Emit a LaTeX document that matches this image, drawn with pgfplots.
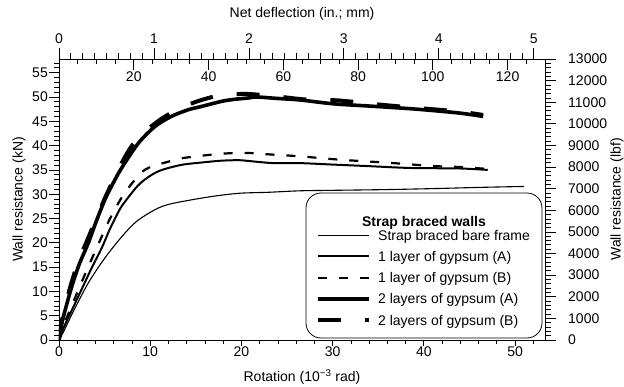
\documentclass[border=0pt]{standalone}
\usepackage{fontspec}
\setmainfont{Liberation Sans}
\usepackage{pgfplots}
\pgfplotsset{compat=1.18}
\begin{document}
\begin{tikzpicture}[font=\fontsize{14}{16}\selectfont]
\pgfplotsset{
  base/.style={
    scale only axis, width=486pt, height=281pt,
    at={(59pt,47pt)}, anchor=south west,
    tick align=outside,
    axis line style={-, line width=0.8pt},
    every tick/.style={black, line width=0.8pt},
    /pgf/number format/assume math mode=true,
    /pgf/number format/1000 sep={},
    scaled ticks=false,
    tick label style={font=\fontsize{14}{16}\selectfont},
    label style={font=\fontsize{14}{16}\selectfont},
  }
}
% ---------- main data axis with left scale ----------
\begin{axis}[base,
  xmin=0, xmax=53.2787, ymin=0, ymax=57.827,
  hide x axis, axis y line*=left,
  ytick={0,5,...,55}, minor ytick={0,1,...,57},
  major tick length=10pt, minor tick length=5pt,
  yticklabel style={inner xsep=1pt},
  ylabel={Wall resistance (kN)},
  ylabel style={at={(axis description cs:-0.0823,0.5)}, anchor=center, inner sep=0pt},
  legend style={at={(0.5288,0.3915)}, anchor=north west, draw=none, fill=none,
    inner sep=0pt, row sep=7.75pt, font=\fontsize{14}{16}\selectfont,
    nodes={inner sep=0pt, text height=10pt, text depth=3.5pt, anchor=base west}},
  legend cell align=left,
  legend image code/.code={\draw[#1] (0pt,5pt) -- (51pt,5pt); \path (0pt,0pt) (58pt,0pt);},
]
\addplot[black, line width=1.1pt, smooth] coordinates {
(0,0) (0.5,1.7) (1.5,5.6) (3.2,11.7) (5,16.8) (6.9,21.3) (8.5,24.4) (10.5,26.8) (12,27.9) (14.4,28.8) (17,29.6) (19.8,30.2) (23,30.4) (26.4,30.7) (30,30.8) (34,30.9) (37.3,31.0) (42,31.2) (46,31.4) (51,31.6)};
\addlegendentry{Strap braced bare frame}
\addplot[black, line width=2pt, smooth] coordinates {
(0,0) (0.5,2.5) (1.5,6.5) (2.5,10.5) (3.5,14.5) (4.7,19) (5.5,22.5) (6.3,25.6) (6.9,27.6) (8.2,30.8) (9,32.4) (10,33.8) (11,34.8) (12,35.4) (13.6,36.1) (15.5,36.5) (17.8,36.9) (19.8,37.0) (21,36.8) (23.5,36.4) (26.4,36.4) (30,36.1) (33.7,35.8) (38.5,35.4) (43.9,35.3) (47,35.0)};
\addlegendentry{1 layer of gypsum (A)}
\addplot[black, line width=2.2pt, dash pattern=on 9pt off 12pt, smooth] coordinates {
(0,0) (0.5,3) (1.5,7.5) (2.5,12) (3.5,16.3) (4.5,20.5) (5.6,25) (7.1,30) (8.9,34.2) (10,35.6) (11.8,36.6) (13.5,37.4) (15.5,37.9) (18.4,38.4) (20.6,38.5) (23,38.2) (26.4,37.8) (30.8,37.1) (35.9,36.5) (41,35.8) (43.9,35.6) (47,35.2)};
\addlegendentry{1 layer of gypsum (B)}
\addplot[black, line width=3.6pt, smooth] coordinates {
(0,0) (0.3,3.4) (0.8,7) (1.4,11) (2.2,15.5) (3.2,19.9) (4.1,24.5) (5.06,29) (6,32.5) (6.9,35.5) (8.7,40.5) (10.5,43.9) (12.3,46) (14.2,47.4) (15.5,48) (17.8,49.1) (19.1,49.5) (20.75,49.8) (21.7,50.0) (24,49.7) (26.4,49.4) (30.1,48.6) (34.4,48.1) (39.2,47.5) (43.9,46.7) (46.5,46.0)};
\addlegendentry{2 layers of gypsum (A)}
\addplot[black, line width=4pt, dash pattern=on 23pt off 24pt, smooth] coordinates {
(0,0) (0.3,3.8) (0.8,7.8) (1.4,12) (2.2,16.5) (3.2,21) (4.1,25) (5.06,29.3) (6.7,35.8) (8,40) (9.44,42.9) (11.3,45.6) (13.3,47.7) (15.3,49.2) (17.5,50.3) (19.5,50.6) (21,50.6) (24,50.1) (27,49.5) (30.6,49.3) (35.4,48.4) (39,47.8) (43.9,47) (46.5,46.3)};
\addlegendentry{2 layers of gypsum (B)}
\draw[black, line width=0.8pt, rounded corners=15pt] (rel axis cs:0.5082,0.0071) rectangle (rel axis cs:0.9938,0.5231);
\node[font=\fontsize{14}{16}\selectfont\bfseries, anchor=center] at (rel axis cs:0.7510,0.4164) {Strap braced walls};
\end{axis}
% ---------- bottom axis ----------
\begin{axis}[base,
  xmin=0, xmax=53.2787, ymin=0, ymax=1,
  hide y axis, axis x line*=bottom,
  xtick={0,10,...,50}, minor xtick={0,2,...,52},
  major tick length=6.5pt, minor tick length=4.5pt,
  xticklabel style={inner ysep=0pt},
  xlabel={Rotation (10\textsuperscript{−3} rad)},
  xlabel style={at={(axis description cs:0.5,-0.1317)}, anchor=center, inner sep=0pt},
]
\end{axis}
% ---------- top inches + right lbf ----------
\begin{axis}[base,
  xmin=0, xmax=5.11811, ymin=0, ymax=13000,
  axis x line*=top, axis y line*=right,
  xtick={0,1,...,5}, minor xtick={0,0.125,...,5.1},
  ytick={0,1000,...,13000}, minor ytick={0,200,...,13000},
  major tick length=11pt, minor tick length=5.5pt,
  xticklabel style={inner ysep=0pt, yshift=4pt},
  yticklabel style={inner xsep=0pt, xshift=12pt},
  xlabel={Net deflection (in.; mm)},
  xlabel style={at={(axis description cs:0.5,1.160)}, anchor=center, inner sep=0pt},
  ylabel={Wall resistance (lbf)},
  ylabel style={at={(axis description cs:1.148,0.5)}, anchor=center, inner sep=0pt},
]
\end{axis}
% ---------- mm scale inside top ----------
\begin{axis}[
  scale only axis, width=486pt, height=20pt,
  at={(59pt,328pt)}, anchor=south west,
  tick align=outside,
  axis line style={-, line width=0.8pt},
  every tick/.style={black, line width=0.8pt},
  /pgf/number format/assume math mode=true,
  tick label style={font=\fontsize{14}{16}\selectfont},
  xmin=0, xmax=130, ymin=0, ymax=1,
  hide y axis, axis x line*=bottom,
  xtick={20,40,...,120}, minor xtick={0,5,...,130},
  major tick length=11pt, minor tick length=5.5pt,
  xticklabel style={inner ysep=0pt, yshift=-2pt},
]
\end{axis}
\pgfresetboundingbox
\useasboundingbox (0,0) rectangle (624pt,387pt);
\end{tikzpicture}
\end{document}
